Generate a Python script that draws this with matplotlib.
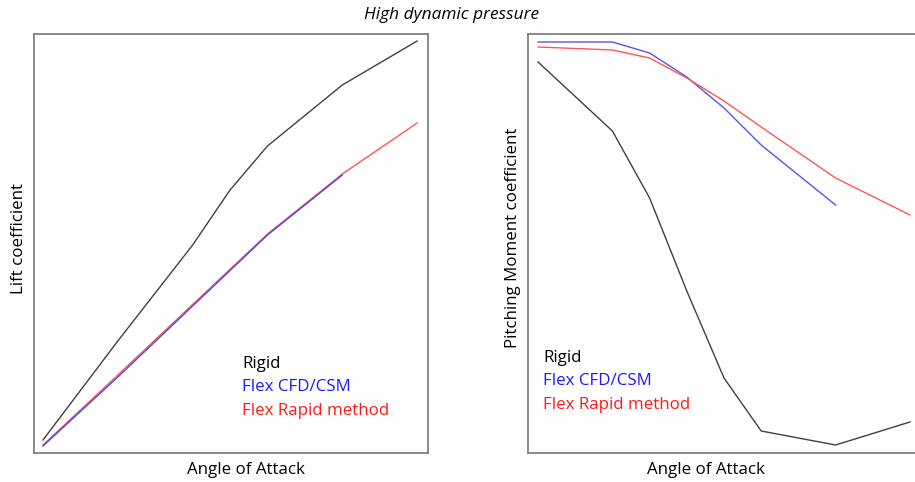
import matplotlib
matplotlib.use("Agg")
import matplotlib.pyplot as plt

# angle of attack stations (arbitrary units)
aoa_lift_rigid = [0, 2, 4, 5, 6, 8, 10]
cl_rigid = [0.13, 1.12, 2.08, 2.63, 3.07, 3.68, 4.12]
aoa_lift_cfd = [0, 2, 6, 8]
cl_cfd = [0.07, 0.76, 2.18, 2.78]
aoa_lift_rapid = [0, 2, 6, 8, 10]
cl_rapid = [0.08, 0.78, 2.19, 2.79, 3.30]

aoa_pm = [0, 2, 3, 4, 5, 6, 8, 10]
cm_rigid = [-0.28, -0.97, -1.64, -2.57, -3.44, -3.97, -4.11, -3.88]
aoa_pm_cfd = [0, 2, 3, 4, 5, 6, 8]
cm_cfd = [-0.08, -0.08, -0.19, -0.43, -0.74, -1.11, -1.71]
cm_rapid = [-0.13, -0.16, -0.24, -0.44, -0.67, -0.93, -1.44, -1.81]

legend_labels = ["Rigid", "Flex CFD/CSM", "Flex Rapid method"]
legend_colors = ["black", "#1a1aff", "#ff1a1a"]

plt.rcParams['font.family'] = ['Open Sans', 'DejaVu Sans']

W, H = 915, 482
fig = plt.figure(figsize=(W/100, H/100), dpi=100)

ax1 = fig.add_axes([34/W, 29/H, 394/W, 419/H])
ax2 = fig.add_axes([528/W, 29/H, 392/W, 419/H])

ax1.plot(aoa_lift_rigid, cl_rigid, color="#404040", lw=1.0)
ax1.plot(aoa_lift_rapid, cl_rapid, color="#ff5555", lw=1.0)
ax1.plot(aoa_lift_cfd, cl_cfd, color="#4b4bdd", lw=1.0)
ax1.set_xlim(-0.24, 10.29)
ax1.set_ylim(0, 4.19)

ax2.plot(aoa_pm, cm_rigid, color="#404040", lw=1.0)
ax2.plot(aoa_pm_cfd, cm_cfd, color="#5555ee", lw=1.0)
ax2.plot(aoa_pm, cm_rapid, color="#ff5555", lw=1.0)
ax2.set_xlim(-0.27, 10.27)
ax2.set_ylim(-4.19, 0)

for ax in (ax1, ax2):
    ax.set_xticks([])
    ax.set_yticks([])
    for s in ax.spines.values():
        s.set_color("#808080")
        s.set_linewidth(1.3)

fs = 12.2
# legends as plain coloured text
for i, (lab, col) in enumerate(zip(legend_labels, legend_colors)):
    ax1.text(0.528, [0.212, 0.158, 0.101][i], lab, color=col, fontsize=fs,
             transform=ax1.transAxes, va="center", ha="left")
    ax2.text(0.038, [0.227, 0.172, 0.115][i], lab, color=col, fontsize=fs,
             transform=ax2.transAxes, va="center", ha="left")

ax1.text(0.537, -0.041, "Angle of Attack", fontsize=fs, ha="center", va="center",
         transform=ax1.transAxes)
ax2.text(0.454, -0.041, "Angle of Attack", fontsize=fs, ha="center", va="center",
         transform=ax2.transAxes)
ax1.text(-0.037, 0.511, "Lift coefficient", fontsize=fs, rotation=90,
         ha="center", va="center", transform=ax1.transAxes)
ax2.text(-0.037, 0.513, "Pitching Moment coefficient", fontsize=fs, rotation=90,
         ha="center", va="center", transform=ax2.transAxes)

fig.text(452/W, 1 - 15/H, "High dynamic pressure", fontsize=12.4, style="italic",
         ha="center", va="center")

fig.savefig("out.png", dpi=100)
